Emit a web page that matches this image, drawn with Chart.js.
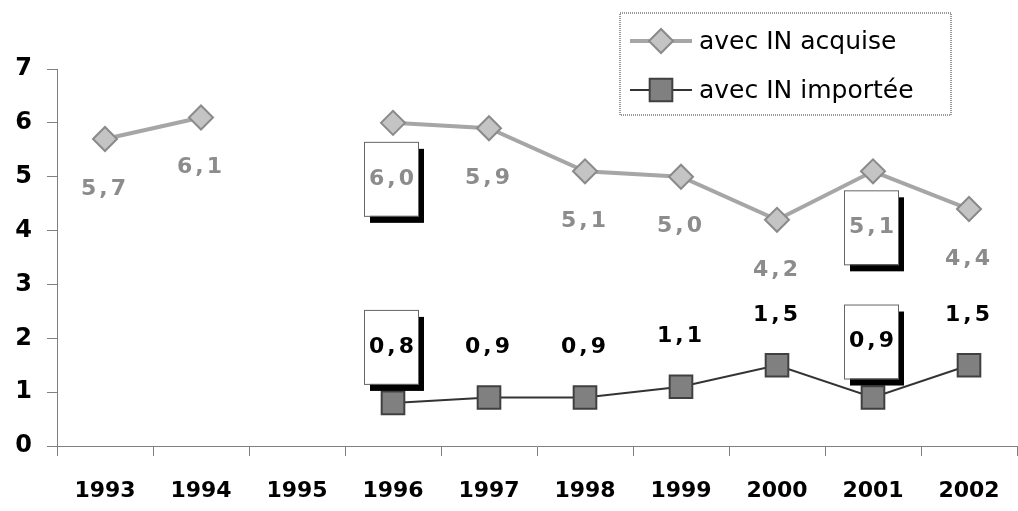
<!DOCTYPE html>
<html lang="fr">
<head>
    <meta charset="UTF-8">
    <title>IN acquise / importée</title>
    <script src="https://cdn.jsdelivr.net/npm/chart.js"></script>
    <style>
        html, body { margin: 0; padding: 0; background: #fff; }
        #wrap { width: 1018px; height: 511px; }
    </style>
</head>
<body>
    <div id="wrap"><canvas id="inChart" width="1018" height="511"></canvas></div>

    <script>
        // données
        const annees = ['1993', '1994', '1995', '1996', '1997', '1998', '1999', '2000', '2001', '2002'];
        const acquise = [5.7, 6.1, null, 6.0, 5.9, 5.1, 5.0, 4.2, 5.1, 4.4];
        const importee = [null, null, null, 0.8, 0.9, 0.9, 1.1, 1.5, 0.9, 1.5];
        const yTicks = [0, 1, 2, 3, 4, 5, 6, 7];
        const enCadre = ['1996', '2001']; // étiquettes encadrées

        const FONT = '"DejaVu Sans", sans-serif';

        const fmt = v => v.toFixed(1).replace('.', ',');

        // étiquettes de valeurs + légende
        const labelPlugin = {
            id: 'valeurs',
            afterDatasetsDraw(chart) {
                const ctx = chart.ctx;
                ctx.save();
                ctx.font = 'bold 22px ' + FONT;
                ctx.letterSpacing = '3px';
                ctx.textAlign = 'center';
                ctx.textBaseline = 'middle';
                chart.data.datasets.forEach((ds, di) => {
                    const meta = chart.getDatasetMeta(di);
                    meta.data.forEach((pt, i) => {
                        const v = ds.data[i];
                        if (v === null) return;
                        const boxed = enCadre.includes(annees[i]);
                        const dir = di === 0 ? 1 : -1;
                        const y = pt.y + dir * (boxed ? 56 : 50);
                        if (boxed) {
                            ctx.fillStyle = '#000';
                            ctx.fillRect(pt.x - 23, y - 30, 54, 74);
                            ctx.fillStyle = '#fff';
                            ctx.fillRect(pt.x - 29, y - 37, 54, 74);
                            ctx.strokeStyle = '#666';
                            ctx.lineWidth = 1;
                            ctx.strokeRect(pt.x - 28.5, y - 36.5, 54, 74);
                        }
                        ctx.fillStyle = di === 0 ? '#8c8c8c' : '#000';
                        ctx.fillText(fmt(v), pt.x, y);
                    });
                });
                ctx.restore();

                // légende
                ctx.save();
                ctx.strokeStyle = '#999';
                ctx.lineWidth = 2;
                ctx.setLineDash([1, 1]);
                ctx.strokeRect(620, 13, 331, 102);
                ctx.setLineDash([]);
                const items = [
                    { ds: chart.data.datasets[0], y: 41 },
                    { ds: chart.data.datasets[1], y: 90 }
                ];
                items.forEach(it => {
                    ctx.strokeStyle = it.ds.borderColor;
                    ctx.lineWidth = it.ds.borderWidth;
                    ctx.beginPath();
                    ctx.moveTo(630, it.y);
                    ctx.lineTo(692, it.y);
                    ctx.stroke();
                    ctx.fillStyle = it.ds.pointBackgroundColor;
                    ctx.strokeStyle = it.ds.pointBorderColor;
                    ctx.lineWidth = it.ds.pointBorderWidth;
                    Chart.helpers.drawPoint(ctx, {
                        pointStyle: it.ds.pointStyle,
                        radius: it.ds.pointRadius,
                        rotation: 0,
                        borderWidth: it.ds.pointBorderWidth
                    }, 661, it.y);
                    ctx.fillStyle = '#000';
                    ctx.font = '25px ' + FONT;
                    ctx.textAlign = 'left';
                    ctx.textBaseline = 'middle';
                    ctx.fillText(it.ds.label, 699, it.y + 1);
                });
                ctx.restore();
            }
        };

        const ctx = document.getElementById('inChart').getContext('2d');

        const chart = new Chart(ctx, {
            type: 'line',
            data: {
                labels: annees,
                datasets: [
                    {
                        label: 'avec IN acquise',
                        data: acquise,
                        borderColor: '#a6a6a6',
                        borderWidth: 4,
                        pointStyle: 'rectRot',
                        pointRadius: 12,
                        pointBackgroundColor: '#c4c4c4',
                        pointBorderColor: '#8a8a8a',
                        pointBorderWidth: 2,
                        spanGaps: false,
                        tension: 0
                    },
                    {
                        label: 'avec IN importée',
                        data: importee,
                        borderColor: '#333333',
                        borderWidth: 2,
                        pointStyle: 'rect',
                        pointRadius: 16,
                        pointBackgroundColor: '#808080',
                        pointBorderColor: '#404040',
                        pointBorderWidth: 2,
                        spanGaps: false,
                        tension: 0
                    }
                ]
            },
            options: {
                responsive: false,
                animation: false,
                layout: {
                    autoPadding: false,
                    padding: { top: 69, right: 1, left: 0, bottom: 0 }
                },
                plugins: {
                    legend: { display: false },
                    tooltip: { enabled: false }
                },
                scales: {
                    x: {
                        offset: true,
                        grid: {
                            offset: true,
                            drawOnChartArea: false,
                            drawTicks: true,
                            tickLength: 10,
                            color: '#808080'
                        },
                        border: { display: true, color: '#808080', width: 1 },
                        ticks: {
                            color: '#000',
                            padding: 0,
                            maxRotation: 0,
                            font: { family: FONT, size: 22, weight: 'bold', lineHeight: '70px' }
                        },
                        afterFit(axis) { axis.height = 65; }
                    },
                    y: {
                        min: 0,
                        max: 7,
                        afterBuildTicks(axis) { axis.ticks = yTicks.map(v => ({ value: v })); },
                        grid: {
                            drawOnChartArea: false,
                            drawTicks: true,
                            tickLength: 10,
                            color: '#808080'
                        },
                        border: { display: true, color: '#808080', width: 1 },
                        ticks: {
                            color: '#000',
                            padding: 15,
                            font: { family: FONT, size: 24, weight: 'bold' }
                        },
                        afterFit(axis) { axis.width = 57; }
                    }
                }
            },
            plugins: [labelPlugin]
        });
    </script>
</body>
</html>
